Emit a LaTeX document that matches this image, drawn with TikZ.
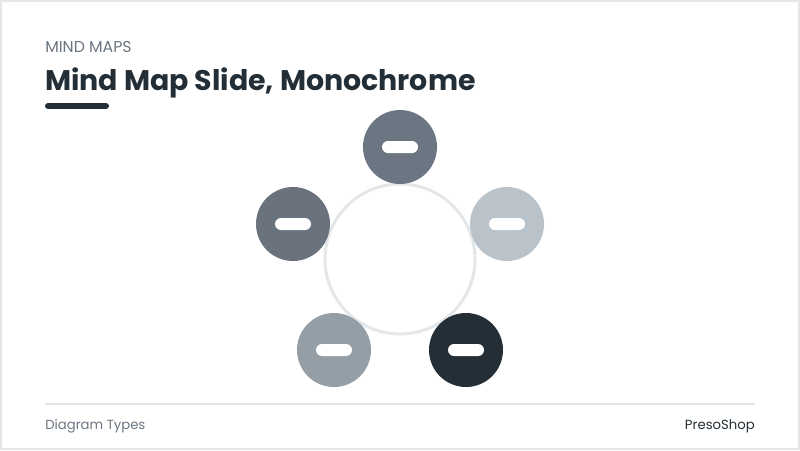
\documentclass[tikz,border=0pt]{standalone}
\usepackage{fontspec}
\setmainfont{Poppins}
\usepackage{xcolor}
\definecolor{inkdark}{HTML}{232E36}
\definecolor{inkgray}{HTML}{6B7580}
\definecolor{ringgray}{HTML}{E3E7EA}
\definecolor{rulegray}{HTML}{E2E4E6}
\definecolor{framegray}{HTML}{E6E6E6}
\definecolor{topgray}{HTML}{6B7682}
\definecolor{leftgray}{HTML}{6A737D}
\definecolor{rightgray}{HTML}{BBC3CA}
\definecolor{lowgray}{HTML}{949EA6}

\begin{document}
\begin{tikzpicture}[x=0.025cm,y=-0.025cm]
\useasboundingbox (0,0) rectangle (800,450);
\draw[framegray,line width=2.5*0.025cm] (1,1) rectangle (799,449);

% header
\node[anchor=base west,inner sep=0pt,text=inkgray,font=\fontsize{11.2}{13}\selectfont] (kicker) at (45,52) {MIND MAPS};
\node[anchor=base west,inner sep=0pt,text=inkdark,font=\fontsize{20.2}{24}\selectfont\bfseries] (title) at (45,90) {Mind Map Slide, Monochrome};
\draw[inkdark,line width=6*0.025cm,line cap=round] (48,106)--(106,106);

% centre and branches
\node[circle,draw=ringgray,line width=3*0.025cm,minimum size=150*0.025cm] (hub) at (400,259) {};
\node[circle,fill=topgray,minimum size=74*0.025cm] (b1) at (400,147) {};
\node[circle,fill=rightgray,minimum size=74*0.025cm] (b2) at (507,224) {};
\node[circle,fill=inkdark,minimum size=74*0.025cm] (b3) at (466,350) {};
\node[circle,fill=lowgray,minimum size=74*0.025cm] (b4) at (334,350) {};
\node[circle,fill=leftgray,minimum size=74*0.025cm] (b5) at (293,224) {};

\node[fill=white,rounded corners=6*0.025cm,minimum width=36*0.025cm,minimum height=12*0.025cm,inner sep=0pt] (p1) at (b1) {};
\node[fill=white,rounded corners=6*0.025cm,minimum width=36*0.025cm,minimum height=12*0.025cm,inner sep=0pt] (p2) at (b2) {};
\node[fill=white,rounded corners=6*0.025cm,minimum width=36*0.025cm,minimum height=12*0.025cm,inner sep=0pt] (p3) at (b3) {};
\node[fill=white,rounded corners=6*0.025cm,minimum width=36*0.025cm,minimum height=12*0.025cm,inner sep=0pt] (p4) at (b4) {};
\node[fill=white,rounded corners=6*0.025cm,minimum width=36*0.025cm,minimum height=12*0.025cm,inner sep=0pt] (p5) at (b5) {};

% footer
\coordinate (f1) at (45,404);
\coordinate (f2) at (755,404);
\draw[rulegray,line width=1.2*0.025cm] (f1)--(f2);
\node[anchor=base west,inner sep=0pt,text=inkgray,font=\fontsize{9.4}{11}\selectfont] (foot) at (45,429) {Diagram Types};
\node[anchor=base east,inner sep=0pt,text=inkdark,font=\fontsize{9.4}{11}\selectfont] (brand) at (755,429) {PresoShop};
\end{tikzpicture}
\end{document}
